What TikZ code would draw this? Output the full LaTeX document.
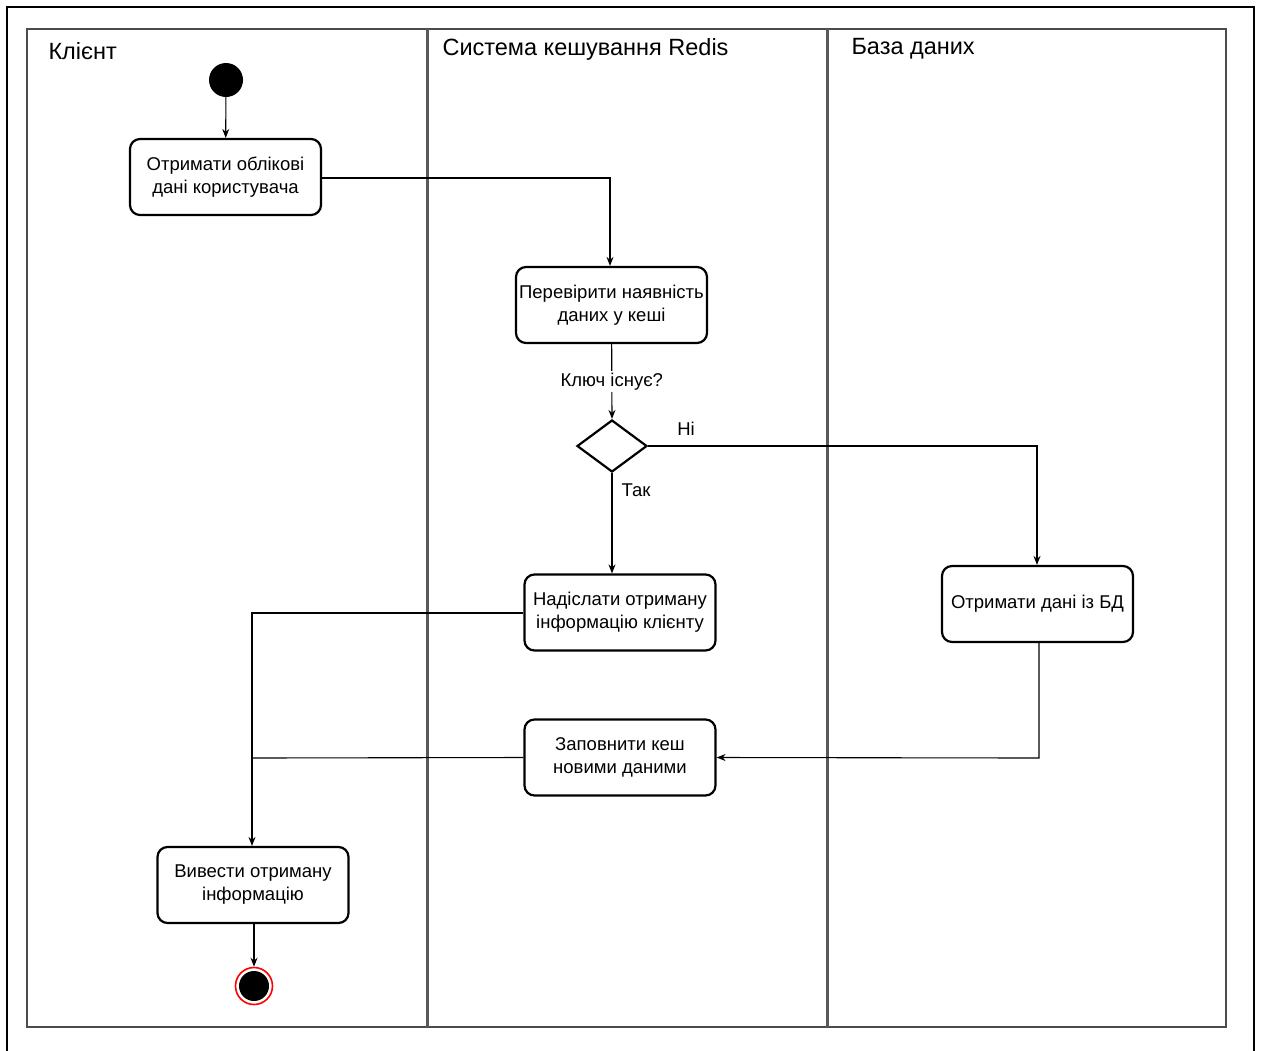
\documentclass[tikz,border=0pt]{standalone}
\usepackage{fontspec}
\setmainfont{Liberation Sans}
\usetikzlibrary{shapes.geometric,arrows.meta}
\begin{document}
\begin{tikzpicture}[x=1pt,y=-1pt,
  act/.style={draw=black,line width=2.2pt,rounded corners=10pt,fill=white,
    minimum width=191pt,minimum height=76pt,align=center,inner sep=1pt,
    font=\fontsize{18.5}{23}\selectfont},
  lanetitle/.style={anchor=west,font=\fontsize{23.5}{27}\selectfont},
  flow/.style={draw=black,line width=1.1pt,-{Stealth[length=9pt,width=7pt]}},
  plain/.style={draw=black,line width=1.1pt},
  lbl/.style={font=\fontsize{18.5}{21}\selectfont,inner sep=2pt},
  lane/.style={draw=black!70,line width=2pt},
  divider/.style={draw=black!65,line width=3pt}]
\useasboundingbox (0,0) rectangle (1263,1050);
% page frame
\draw[black,line width=2pt] (7,1060) -- (7,7) -- (1254,7) -- (1254,1060);
% swimlanes
\draw[lane] (27,29) rectangle (1226,1027);
\draw[divider] (427,29) -- (427,1027);
\draw[divider] (827,29) -- (827,1027);
\node[lanetitle] (t1) at (45,51) {Клієнт};
\node[lanetitle] (t2) at (439,49) {Система кешування Redis};
\node[lanetitle] (t3) at (848,49) {База даних};
% activity nodes
\node[circle,fill=black,minimum size=34pt,inner sep=0pt] (start) at (226,80) {};
\node[act] (getcred) at (225.5,177) {Отримати облікові\\дані користувача};
\node[act] (check) at (611.5,305) {Перевірити наявність\\даних у кеші};
\node[diamond,draw=black,line width=2.2pt,fill=white,minimum width=70pt,minimum height=52pt,inner sep=0pt,aspect=1.35] (dec) at (612,446) {};
\node[act] (send) at (620,612.5) {Надіслати отриману\\інформацію клієнту};
\node[act] (db) at (1037.5,604) {Отримати дані із БД};
\node[act] (fill) at (620,757.5) {Заповнити кеш\\новими даними};
\node[act] (show) at (253,885) {Вивести отриману\\інформацію};
\node[circle,draw=red,line width=1.6pt,minimum size=37pt,inner sep=0pt] (endring) at (254,986) {};
\node[circle,fill=black,minimum size=30pt,inner sep=0pt] (end) at (254,986) {};
% junction points
\coordinate (j1) at (610,178);
\coordinate (j2) at (1037,446);
\coordinate (j3) at (252,613);
\coordinate (j4) at (252,758);
\coordinate (j5) at (1039,758);
% connectors
\draw[flow] (start) -- (getcred);
\draw[flow] (getcred.east |- j1) -- (j1) -- (check.north -| j1);
\draw[flow] (check) -- (dec.north)
  node[lbl,midway,fill=white] (q) {Ключ існує?};
\draw[flow] (dec.east) -- (j2) -- (db.north -| j2);
\node[lbl] (no) at (686,429) {Ні};
\draw[flow] (dec.south) -- (send.north -| dec.south);
\node[lbl] (yes) at (636,490) {Так};
\draw[flow] (send.west |- j3) -- (j3) -- (show.north -| j3);
\draw[flow] (db.south -| j5) -- (j5) -- (fill.east);
\draw[plain] (fill.west) -- (j4);
\draw[flow] (show.south -| endring) -- (endring.north);
\end{tikzpicture}
\end{document}
